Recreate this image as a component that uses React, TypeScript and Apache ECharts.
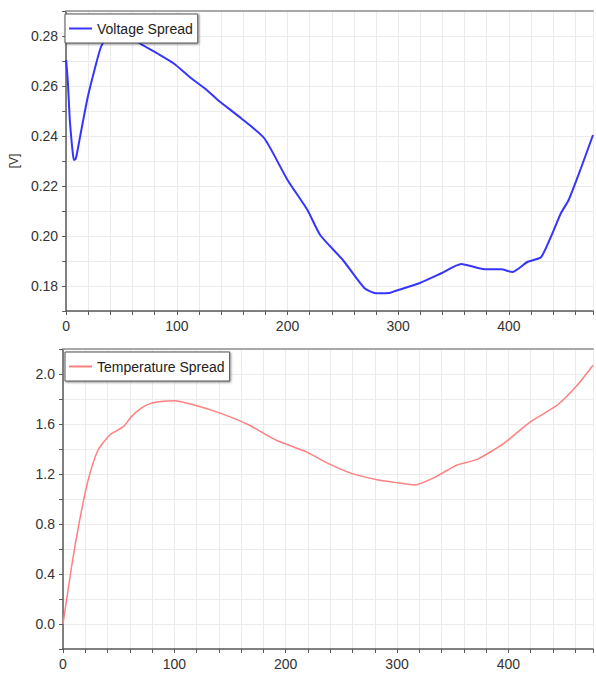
import React, { useEffect, useRef } from "react";
import * as echarts from "echarts";

// Voltage spread [V] vs time
const voltageT = [0, 1.5, 3.3, 4.5, 5.8, 7, 8.5, 10, 13.7, 19.6, 25.6, 31.5, 37.5, 44, 50, 57, 64, 82, 97, 113, 127, 137, 158, 179, 200, 218, 229.5, 250, 269.6, 280, 292, 298, 319, 339, 357, 378, 393, 403, 417, 429, 438, 447, 454, 465, 476];
const voltageV = [0.2704, 0.262, 0.2464, 0.240, 0.234, 0.2304, 0.2308, 0.2335, 0.2424, 0.2557, 0.2664, 0.2757, 0.2797, 0.281, 0.2812, 0.28, 0.2777, 0.2731, 0.2691, 0.2631, 0.2584, 0.2544, 0.2471, 0.2391, 0.2224, 0.2104, 0.2004, 0.1904, 0.1791, 0.1771, 0.1772, 0.1781, 0.1811, 0.1851, 0.1888, 0.1867, 0.1867, 0.1856, 0.1897, 0.1915, 0.1997, 0.2091, 0.2144, 0.227, 0.2404];

// Temperature spread vs time
const tempT = [0, 7.7, 15, 22.6, 31.5, 42, 50, 55, 61, 70, 79, 90, 100, 118, 141.7, 167, 191, 218, 238, 259, 283, 298, 316, 334, 345.5, 354, 372, 396, 420, 444, 462, 476];
const tempV = [0.0, 0.458, 0.832, 1.152, 1.392, 1.512, 1.555, 1.585, 1.655, 1.725, 1.765, 1.782, 1.787, 1.752, 1.685, 1.592, 1.472, 1.379, 1.285, 1.205, 1.152, 1.133, 1.112, 1.173, 1.232, 1.272, 1.317, 1.445, 1.619, 1.752, 1.912, 2.07];

const seriesNames = ["Voltage Spread", "Temperature Spread"];
const xTickLabels = [0, 100, 200, 300, 400];

const FONT = "'Liberation Sans', Arial, sans-serif";
const GRID_LINE = "#ebebeb";
const AXIS = "#5a5a5a";

function bottomX(gridIndex: number) {
  return {
    type: "value",
    gridIndex,
    min: 0,
    max: 476,
    interval: 20,
    axisLine: { show: true, onZero: false, lineStyle: { color: AXIS, width: 1.5 } },
    axisTick: { show: true, length: 4, lineStyle: { color: AXIS } },
    axisLabel: {
      color: "#333",
      fontSize: 14,
      fontFamily: FONT,
      margin: 8,
      formatter: (v: number) => (xTickLabels.indexOf(Math.round(v)) >= 0 && Math.abs(v - Math.round(v)) < 1e-6 ? String(Math.round(v)) : ""),
    },
    splitLine: { show: true, lineStyle: { color: GRID_LINE, width: 1 } },
  };
}

function topX(gridIndex: number) {
  return {
    type: "value",
    gridIndex,
    position: "top",
    min: 0,
    max: 476,
    axisLine: { show: true, onZero: false, lineStyle: { color: "#a8a8a8", width: 2 } },
    axisTick: { show: false },
    axisLabel: { show: false },
    splitLine: { show: false },
  };
}

export default function App() {
  const ref = useRef<HTMLDivElement>(null);
  useEffect(() => {
    if (!ref.current) return;
    const chart = echarts.init(ref.current, undefined, { renderer: "svg" });
    const legendCommon = {
      orient: "horizontal",
      selectedMode: false,
      backgroundColor: "#fff",
      borderColor: "#555",
      borderWidth: 1,
      borderRadius: 0,
      padding: [7, 5, 7, 4],
      icon: "rect",
      itemWidth: 23,
      itemHeight: 2,
      itemGap: 5,
      shadowColor: "rgba(0,0,0,0.45)",
      shadowBlur: 2,
      shadowOffsetX: 1,
      shadowOffsetY: 1,
      textStyle: { fontSize: 14, fontFamily: FONT, color: "#222", lineHeight: 15 },
    };
    chart.setOption({
      animation: false,
      backgroundColor: "#fff",
      grid: [
        { left: 63, right: 0, top: 11, height: 300 },
        { left: 63, right: 0, top: 349, height: 300 },
      ],
      legend: [
        { ...legendCommon, data: [seriesNames[0]], left: 65, top: 14 },
        { ...legendCommon, data: [seriesNames[1]], left: 65, top: 352 },
      ],
      xAxis: [bottomX(0), topX(0), bottomX(1), topX(1)],
      yAxis: [
        {
          type: "value",
          gridIndex: 0,
          min: 0.17,
          max: 0.29,
          interval: 0.01,
          name: "[V]",
          nameLocation: "middle",
          nameGap: 45,
          nameTextStyle: { fontSize: 12, fontFamily: FONT, color: "#333" },
          axisLine: { show: true, onZero: false, lineStyle: { color: AXIS, width: 1.5 } },
          axisTick: { show: true, length: 4, lineStyle: { color: AXIS } },
          axisLabel: {
            color: "#333",
            fontSize: 14,
            fontFamily: FONT,
            margin: 8,
            formatter: (v: number) => (Math.round(v * 100) % 2 === 0 ? v.toFixed(2) : ""),
          },
          splitLine: { show: true, lineStyle: { color: GRID_LINE, width: 1 } },
        },
        {
          type: "value",
          gridIndex: 1,
          min: -0.2,
          max: 2.2,
          interval: 0.2,
          axisLine: { show: true, onZero: false, lineStyle: { color: AXIS, width: 1.5 } },
          axisTick: { show: true, length: 4, lineStyle: { color: AXIS } },
          axisLabel: {
            color: "#333",
            fontSize: 14,
            fontFamily: FONT,
            margin: 8,
            formatter: (v: number) => {
              const k = Math.round(v * 10);
              return k >= 0 && k % 4 === 0 ? v.toFixed(1) : "";
            },
          },
          splitLine: { show: true, lineStyle: { color: GRID_LINE, width: 1 } },
        },
      ],
      series: [
        {
          name: seriesNames[0],
          type: "line",
          xAxisIndex: 0,
          yAxisIndex: 0,
          symbol: "none",
          smooth: 0.2,
          lineStyle: { color: "#3535ff", width: 2 },
          itemStyle: { color: "#3535ff" },
          data: voltageT.map((t, i) => [t, voltageV[i]]),
        },
        {
          name: seriesNames[1],
          type: "line",
          xAxisIndex: 2,
          yAxisIndex: 1,
          symbol: "none",
          smooth: 0.2,
          lineStyle: { color: "#ff8080", width: 1.5 },
          itemStyle: { color: "#ff8080" },
          data: tempT.map((t, i) => [t, tempV[i]]),
        },
      ],
    });
    return () => chart.dispose();
  }, []);
  return <div ref={ref} style={{ position: "absolute", left: 0, top: 0, width: 596, height: 673 }} />;
}
